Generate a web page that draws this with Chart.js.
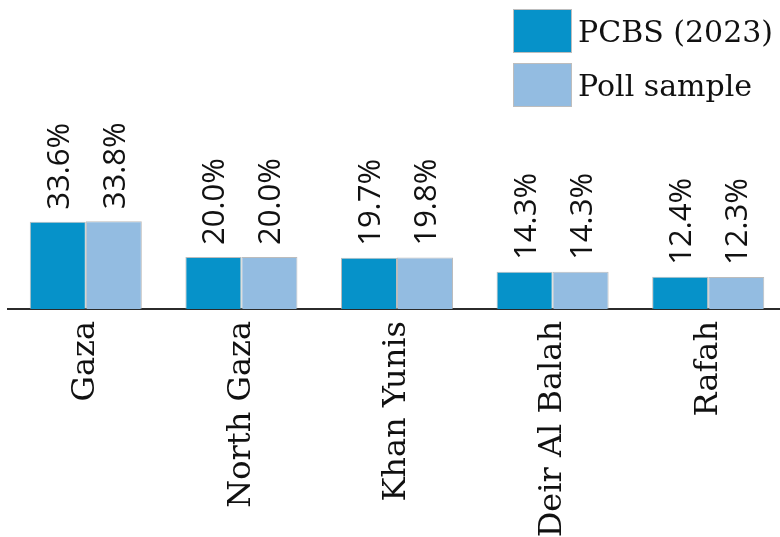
<!DOCTYPE html>
<html>
<head>
<meta charset="utf-8">
<script src="https://cdn.jsdelivr.net/npm/chart.js@4.4.0/dist/chart.umd.min.js"></script>
<style>
  html, body { margin: 0; padding: 0; background: #fff; overflow: hidden; }
  #wrap { position: relative; width: 786px; height: 537px; }
  #legend { position: absolute; left: 513px; top: 9px; font-family: 'DejaVu Serif', serif; font-size: 30px; color: #111; }
  .item { display: flex; align-items: center; height: 44px; margin-bottom: 10px; }
  .box { width: 57px; height: 42px; border: 1px solid #bdbdbd; margin-right: 6px; }
</style>
</head>
<body>
<div id="wrap">
  <canvas id="chart" width="786" height="537"></canvas>
  <div id="legend"></div>
</div>
<script>
// Gaza governorates: population share, PCBS vs poll sample

const CATEGORIES = ['Gaza', 'North Gaza', 'Khan Yunis', 'Deir Al Balah', 'Rafah'];
const SERIES_NAMES = ['PCBS (2023)', 'Poll sample'];
const PCBS_VALUES = [33.6, 20.0, 19.7, 14.3, 12.4];
const POLL_VALUES = [33.8, 20.0, 19.8, 14.3, 12.3];
const COLORS = ['#0692c9', '#93bce1'];

// ── value labels above each bar (rotated) ───────────────────────────────────
const valueLabels = {
  id: 'valueLabels',
  afterDatasetsDraw(chart) {
    const ctx = chart.ctx;
    ctx.save();
    ctx.font = '31px "Open Sans", sans-serif';
    ctx.fillStyle = '#111';
    ctx.textAlign = 'left';
    ctx.textBaseline = 'alphabetic';
    chart.data.datasets.forEach((ds, di) => {
      chart.getDatasetMeta(di).data.forEach((bar, i) => {
        ctx.save();
        ctx.translate(bar.x, bar.y - 12);
        ctx.rotate(-Math.PI / 2);
        ctx.fillText(ds.data[i].toFixed(1) + '%', 0, 11);
        ctx.restore();
      });
    });
    ctx.restore();
  }
};

const chart = new Chart(document.getElementById('chart'), {
  type: 'bar',
  data: {
    labels: CATEGORIES,
    datasets: [
      { label: SERIES_NAMES[0], data: PCBS_VALUES, backgroundColor: COLORS[0] },
      { label: SERIES_NAMES[1], data: POLL_VALUES, backgroundColor: COLORS[1] },
    ],
  },
  options: {
    responsive: false,
    animation: false,
    layout: { padding: { left: 8, right: 0, top: 0, bottom: 0 } },
    datasets: {
      bar: {
        categoryPercentage: 0.72,
        barPercentage: 1,
        borderWidth: 1,
        borderColor: 'rgba(160,160,160,0.7)',
        borderSkipped: 'bottom',
      },
    },
    plugins: {
      legend: { display: false },
      tooltip: { enabled: false },
    },
    scales: {
      x: {
        grid: { display: false, drawTicks: false },
        border: { display: true, color: '#2b2b2b', width: 2 },
        ticks: {
          minRotation: 90,
          maxRotation: 90,
          padding: 12,
          color: '#111',
          font: { family: 'DejaVu Serif', size: 32 },
        },
        afterFit: (scale) => { scale.height = 228; },
      },
      y: {
        display: false,
        min: 0,
        max: 119,
      },
    },
  },
  plugins: [valueLabels],
});

// ── legend (HTML) ───────────────────────────────────────────────────────────
const legendEl = document.getElementById('legend');
chart.data.datasets.forEach((ds) => {
  const row = document.createElement('div');
  row.className = 'item';
  row.innerHTML = `<span class="box" style="background:${ds.backgroundColor}"></span><span>${ds.label}</span>`;
  legendEl.appendChild(row);
});
</script>
</body>
</html>
